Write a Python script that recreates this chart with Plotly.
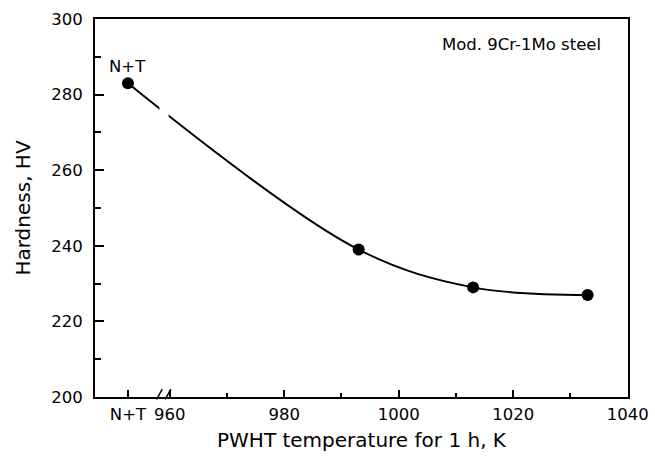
import plotly.graph_objects as go

# ---- data ----
nt_position = 952.7          # where the "N+T" (as-received) condition sits on the axis
temperatures = [nt_position, 993, 1013, 1033]
hardness = [283, 239, 229, 227]

x_tickvals = [nt_position, 960, 980, 1000, 1020, 1040]
x_ticktext = ["N+T", "960", "980", "1000", "1020", "1040"]
x_minor = [970, 990, 1010, 1030]
y_tickvals = [200, 220, 240, 260, 280, 300]
y_minor = [210, 230, 250, 270, 290]

FONT = "DejaVu Sans"
INK = "#000000"

fig = go.Figure()
fig.add_trace(go.Scatter(
    x=temperatures, y=hardness, mode="lines+markers",
    line=dict(color=INK, width=1.9, shape="spline", smoothing=1.0),
    marker=dict(color=INK, size=12),
    showlegend=False,
))

shapes = [
    # gap in the curve at the axis break
    dict(type="rect", xref="x", yref="y", x0=958.2, x1=959.8, y0=268, y1=281,
         fillcolor="white", line=dict(width=0), layer="above"),
    # break marks on the x axis
    dict(type="line", xref="x", yref="paper", x0=957.7, x1=958.7, y0=-0.006, y1=0.021,
         line=dict(color=INK, width=1.5)),
    dict(type="line", xref="x", yref="paper", x0=959.2, x1=960.2, y0=-0.006, y1=0.021,
         line=dict(color=INK, width=1.5)),
]

annotations = [
    dict(x=nt_position, y=283, xref="x", yref="y", text="N+T", showarrow=False,
         yshift=17, font=dict(family=FONT, size=16.5, color=INK)),
    dict(x=0.954, y=0.933, xref="paper", yref="paper", text="Mod. 9Cr-1Mo steel",
         showarrow=False, xanchor="right", yanchor="middle",
         font=dict(family=FONT, size=16.5, color=INK)),
]

fig.update_layout(
    width=655, height=459,
    margin=dict(l=95, r=27, t=19, b=62, autoexpand=False),
    paper_bgcolor="white", plot_bgcolor="white",
    font=dict(family=FONT, color=INK, size=16),
    shapes=shapes, annotations=annotations,
)

fig.update_xaxes(
    range=[946.95, 1040.05], automargin=False,
    tickmode="array", tickvals=x_tickvals, ticktext=x_ticktext,
    ticks="inside", ticklen=7, tickwidth=1.5, tickcolor=INK,
    minor=dict(tickmode="array", tickvals=x_minor, ticks="inside", ticklen=4,
               tickwidth=1.5, tickcolor=INK, showgrid=False),
    showline=True, linecolor=INK, linewidth=1.8, mirror=True,
    showgrid=False, zeroline=False,
    tickfont=dict(family=FONT, size=16.5, color=INK),
    ticklabelstandoff=1,
    title=dict(text="PWHT temperature for 1 h, K", standoff=10,
               font=dict(family=FONT, size=20, color=INK)),
)
fig.update_yaxes(
    range=[200, 300], automargin=False,
    tickmode="array", tickvals=y_tickvals,
    ticks="inside", ticklen=9, tickwidth=1.5, tickcolor=INK,
    minor=dict(tickmode="array", tickvals=y_minor, ticks="inside", ticklen=6,
               tickwidth=1.5, tickcolor=INK, showgrid=False),
    showline=True, linecolor=INK, linewidth=1.8, mirror=True,
    showgrid=False, zeroline=False,
    tickfont=dict(family=FONT, size=16.5, color=INK),
    ticklabelstandoff=7,
    title=dict(text="Hardness, HV", standoff=15,
               font=dict(family=FONT, size=20, color=INK)),
)

fig.write_html("out.html", config={"displayModeBar": False},
               post_script="document.body.style.margin='0';document.body.style.padding='0';")
